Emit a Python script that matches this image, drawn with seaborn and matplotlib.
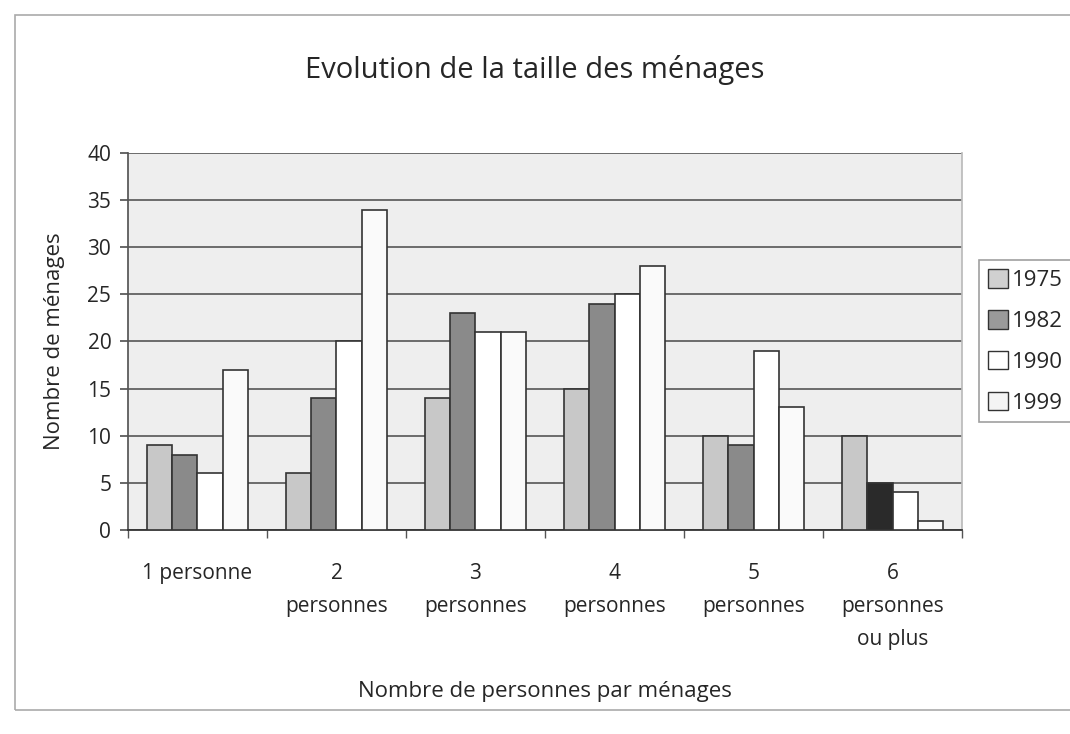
import matplotlib
matplotlib.use("Agg")
import matplotlib.pyplot as plt
import seaborn as sns
import pandas as pd
from matplotlib.patches import Rectangle, Patch

categories = ["1 personne", "2\npersonnes", "3\npersonnes", "4\npersonnes", "5\npersonnes", "6\npersonnes\nou plus"]
years = ["1975", "1982", "1990", "1999"]
v1975 = [9, 6, 14, 15, 10, 10]
v1982 = [8, 14, 23, 24, 9, 5]
v1990 = [6, 20, 21, 25, 19, 4]
v1999 = [17, 34, 21, 28, 13, 1]

rows = []
for y, vals in zip(years, [v1975, v1982, v1990, v1999]):
    for c, v in zip(categories, vals):
        rows.append({"cat": c, "year": y, "value": v})
df = pd.DataFrame(rows)

sns.set_theme(style="white")
plt.rcParams['font.family'] = ['Open Sans', 'DejaVu Sans']

colors = {"1975": "#c8c8c8", "1982": "#8a8a8a", "1990": "#ffffff", "1999": "#fafafa"}

fig = plt.figure(figsize=(10.7, 7.34), dpi=100)
ax = fig.add_axes([0.1196, 0.278, 0.7795, 0.5136])
ax.set_facecolor("#eeeeee")

sns.barplot(data=df, x="cat", y="value", hue="year", palette=colors, order=categories,
            hue_order=years, width=0.73, edgecolor="#333333", linewidth=1.2,
            saturation=1, ax=ax, legend=False, zorder=3)

# The 1982 bar of the last category is printed much darker
bars_1982 = ax.containers[1]
bars_1982[5].set_facecolor("#2a2a2a")

ax.set_ylim(0, 40)
ax.set_xlim(-0.5, 5.5)
ax.set_yticks(range(0, 41, 5))
ax.yaxis.grid(True, color="#555555", linewidth=1.2, zorder=0)
ax.set_axisbelow(True)
ax.spines["top"].set_visible(False)
ax.spines["right"].set_color("#bbbbbb")
ax.spines["left"].set_color("#555555")
ax.spines["bottom"].set_color("#333333")
ax.spines["bottom"].set_linewidth(1.3)

ax.tick_params(axis="y", labelsize=15, length=6, color="#555555", direction="out", left=True, pad=6)
ax.tick_params(axis="x", labelsize=15, length=0, pad=24)
ax.set_xticks(range(6))
ax.set_xticklabels(categories, linespacing=1.75, va="top")
# category boundary tick marks
ax.set_xticks([i - 0.5 for i in range(7)], minor=True)
ax.tick_params(axis="x", which="minor", length=6, color="#555555", bottom=True)

ax.set_xlabel("Nombre de personnes par ménages", fontsize=16, labelpad=22)
ax.set_ylabel("Nombre de ménages", fontsize=16, labelpad=16)
fig.suptitle("Evolution de la taille des ménages", fontsize=21, y=0.925)

handles = [Patch(facecolor=c, edgecolor="#333333", label=y)
           for y, c in zip(years, ["#d0d0d0", "#9a9a9a", "#ffffff", "#f4f4f4"])]
leg = ax.legend(handles=handles, loc="center left", bbox_to_anchor=(1.02, 0.5), borderaxespad=0,
                fontsize=16, frameon=True, edgecolor="#888888", fancybox=False, handlelength=0.9,
                handleheight=0.9, handletextpad=0.2, labelspacing=0.85, borderpad=0.4)
leg.get_frame().set_linewidth(1.2)

# figure border
fig.patches.append(Rectangle((15 / 1070, 1 - 710 / 734), 1.0, (710 - 15) / 734,
                             transform=fig.transFigure, fill=False, edgecolor="#aaaaaa", linewidth=1.2))

fig.savefig("out.png", dpi=100)
